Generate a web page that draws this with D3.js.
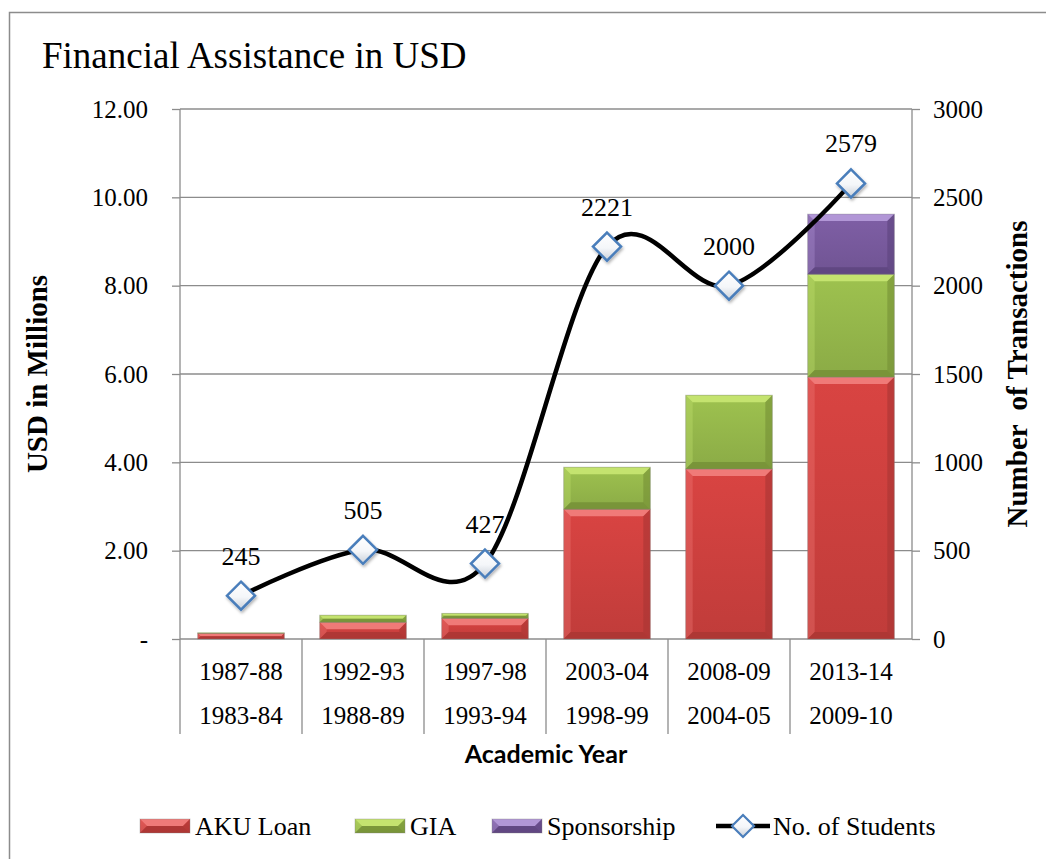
<!DOCTYPE html>
<html>
<head>
<meta charset="utf-8">
<script src="https://cdn.jsdelivr.net/npm/d3@7"></script>
<style>
  body { margin: 0; background: #fff; }
  svg { display: block; }
</style>
</head>
<body>
<div id="vis-container"></div>
<script>
// chart data
var yearsTop    = ["1987-88", "1992-93", "1997-98", "2003-04", "2008-09", "2013-14"];
var yearsBottom = ["1983-84", "1988-89", "1993-94", "1998-99", "2004-05", "2009-10"];
var akuLoan     = [0.13, 0.38, 0.47, 2.94, 3.85, 5.93];
var gia         = [0.01, 0.16, 0.11, 0.95, 1.67, 2.33];
var sponsorship = [0, 0, 0, 0, 0, 1.36];
var students    = [245, 505, 427, 2221, 2000, 2579];
var leftTicks   = [0, 2, 4, 6, 8, 10, 12];
var rightTicks  = [0, 500, 1000, 1500, 2000, 2500, 3000];
var seriesNames = ["AKU Loan", "GIA", "Sponsorship", "No. of Students"];

const width = 1046,
      height = 859,
      margin = {top: 109, bottom: 220, left: 180, right: 134};

const serif = "'Liberation Serif', 'Times New Roman', serif";

// colours for each stacked series: light / mid / dark
var palette = {
    "AKU Loan":    {light: "#f07a78", mid: "#d94442", dark: "#a93633"},
    "GIA":         {light: "#c4e36f", mid: "#9ec24f", dark: "#748f36"},
    "Sponsorship": {light: "#b196d6", mid: "#7f5fa6", dark: "#5c437d"}
};

var table = yearsTop.map(function(y, i) {
    return {year: y, "AKU Loan": akuLoan[i], "GIA": gia[i], "Sponsorship": sponsorship[i], students: students[i]};
});

var svg = d3.select("#vis-container").append("svg")
    .attr("width", width)
    .attr("height", height);

var defs = svg.append("defs");
Object.keys(palette).forEach(function(k, i) {
    var g = defs.append("linearGradient").attr("id", "grad" + i)
        .attr("x1", 0).attr("y1", 0).attr("x2", 0).attr("y2", 1);
    g.append("stop").attr("offset", "0%").attr("stop-color", palette[k].mid);
    g.append("stop").attr("offset", "100%").attr("stop-color", d3.color(palette[k].mid).darker(0.35));
    palette[k].grad = "url(#grad" + i + ")";
});
var mk = defs.append("linearGradient").attr("id", "markerGrad")
    .attr("x1", 0).attr("y1", 0).attr("x2", 0).attr("y2", 1);
mk.append("stop").attr("offset", "0%").attr("stop-color", "#ffffff");
mk.append("stop").attr("offset", "55%").attr("stop-color", "#f4f6f9");
mk.append("stop").attr("offset", "100%").attr("stop-color", "#c9d0d9");
var shadow = defs.append("filter").attr("id", "shadow")
    .attr("x", "-30%").attr("y", "-30%").attr("width", "160%").attr("height", "160%");
shadow.append("feDropShadow").attr("dx", 1).attr("dy", 2).attr("stdDeviation", 1.5)
    .attr("flood-color", "#000").attr("flood-opacity", 0.3);

// outer frame (only left and top edges are inside the picture)
svg.append("rect")
    .attr("x", 9.5).attr("y", 12.5)
    .attr("width", 1100).attr("height", 900)
    .attr("fill", "none").attr("stroke", "#8c8c8c").attr("stroke-width", 1.5);

// title
svg.append("text")
    .attr("x", 42).attr("y", 68)
    .attr("font-family", serif).attr("font-size", 37)
    .text("Financial Assistance in USD");

// ******* Scales *******
var x = d3.scaleBand().domain(yearsTop)
    .range([margin.left, width - margin.right])
    .paddingInner(0.29).paddingOuter(0.145);
var y = d3.scaleLinear().domain([0, 12]).range([height - margin.bottom, margin.top]);
var y2 = d3.scaleLinear().domain([0, 3000]).range([height - margin.bottom, margin.top]);

var x0 = margin.left, x1 = width - margin.right, yBase = height - margin.bottom;

// gridlines
svg.append("g").selectAll("line")
    .data(leftTicks)
    .enter().append("line")
    .attr("x1", x0).attr("x2", x1)
    .attr("y1", function(d) {return y(d);})
    .attr("y2", function(d) {return y(d);})
    .attr("stroke", "#8c8c8c").attr("stroke-width", 1.3);

// category separators, running below the axis
var step = x.step();
var bounds = [x0].concat(yearsTop.map(function(c) {return x(c) - step * x.paddingOuter() + step;}));
svg.append("g").selectAll("line")
    .data(bounds)
    .enter().append("line")
    .attr("x1", function(d) {return d;}).attr("x2", function(d) {return d;})
    .attr("y1", function(d, i) {return (i === 0 || i === bounds.length - 1) ? margin.top : yBase;})
    .attr("y2", function(d, i) {return i === bounds.length - 1 ? yBase : 734;})
    .attr("stroke", "#8c8c8c").attr("stroke-width", 1.3);

// ******* Axes *******
var axisL = svg.append("g")
    .attr("transform", `translate(${x0} 0)`)
    .call(d3.axisLeft(y).tickValues(leftTicks).tickSize(8).tickPadding(24)
        .tickFormat(function(d) {return d === 0 ? "-" : d3.format(".2f")(d);}));
var axisR = svg.append("g")
    .attr("transform", `translate(${x1} 0)`)
    .call(d3.axisRight(y2).tickValues(rightTicks).tickSize(8).tickPadding(13)
        .tickFormat(d3.format("d")));
[axisL, axisR].forEach(function(a) {
    a.select(".domain").remove();
    a.selectAll(".tick line").attr("stroke", "#8c8c8c").attr("stroke-width", 1.3);
    a.selectAll(".tick text").attr("font-family", serif).attr("font-size", 25).attr("fill", "#000");
});

// two rows of year labels
var xl = svg.append("g").attr("font-family", serif).attr("font-size", 25).attr("text-anchor", "middle");
yearsTop.forEach(function(c, i) {
    var cx = x(c) + x.bandwidth() / 2;
    xl.append("text").attr("x", cx).attr("y", 680).text(c);
    xl.append("text").attr("x", cx).attr("y", 724).text(yearsBottom[i]);
});

// axis titles
svg.append("text")
    .attr("x", (x0 + x1) / 2).attr("y", 763)
    .attr("text-anchor", "middle")
    .attr("font-family", "Lato, 'Open Sans', sans-serif").attr("font-weight", "bold").attr("font-size", 25)
    .text("Academic Year");
svg.append("text")
    .attr("transform", `translate(47 ${(margin.top + yBase) / 2}) rotate(-90)`)
    .attr("text-anchor", "middle")
    .attr("font-family", serif).attr("font-weight", "bold").attr("font-size", 29)
    .text("USD in Millions");
svg.append("text")
    .attr("transform", `translate(1027 ${(margin.top + yBase) / 2}) rotate(-90)`)
    .attr("text-anchor", "middle")
    .attr("font-family", serif).attr("font-weight", "bold").attr("font-size", 29)
    .attr("xml:space", "preserve")
    .text("Number  of Transactions");

// bevelled box, like the Excel bar style
function bevelBox(g, bx, by, bw, bh, col, fill) {
    if (bh <= 0) return;
    var b = Math.min(7, bh / 2, bw / 2);
    g.append("rect").attr("x", bx).attr("y", by).attr("width", bw).attr("height", bh)
        .attr("fill", fill);
    var poly = function(pts, c, op) {
        g.append("polygon").attr("points", pts.map(function(p) {return p.join(",");}).join(" "))
            .attr("fill", c).attr("fill-opacity", op);
    };
    poly([[bx, by], [bx + bw, by], [bx + bw - b, by + b], [bx + b, by + b]], col.light, 1);
    poly([[bx, by], [bx + b, by + b], [bx + b, by + bh - b], [bx, by + bh]], col.light, 0.35);
    poly([[bx + bw, by], [bx + bw, by + bh], [bx + bw - b, by + bh - b], [bx + bw - b, by + b]], col.dark, 0.6);
    poly([[bx, by + bh], [bx + b, by + bh - b], [bx + bw - b, by + bh - b], [bx + bw, by + bh]], col.dark, 0.8);
    g.append("rect").attr("x", bx).attr("y", by).attr("width", bw).attr("height", bh)
        .attr("fill", "none").attr("stroke", "#7f7f7f").attr("stroke-opacity", 0.35).attr("stroke-width", 1);
}

// ******* Stacked bars *******
var keys = ["AKU Loan", "GIA", "Sponsorship"];
var stacked = d3.stack().keys(keys)(table);
var barG = svg.append("g");
stacked.forEach(function(layer) {
    layer.forEach(function(d) {
        bevelBox(barG, x(d.data.year), y(d[1]), x.bandwidth(), y(d[0]) - y(d[1]),
            palette[layer.key], palette[layer.key].grad);
    });
});

// ******* Line of students *******
var line = d3.line()
    .x(function(d) {return x(d.year) + x.bandwidth() / 2;})
    .y(function(d) {return y2(d.students);})
    .curve(d3.curveCardinal.tension(0));
svg.append("path")
    .datum(table)
    .attr("d", line)
    .attr("fill", "none").attr("stroke", "#000").attr("stroke-width", 4.5);

var diamond = "M0,-14L14,0L0,14L-14,0Z";
svg.append("g").selectAll("path")
    .data(table)
    .enter().append("path")
    .attr("d", diamond)
    .attr("transform", function(d) {return `translate(${x(d.year) + x.bandwidth() / 2} ${y2(d.students)})`;})
    .attr("fill", "url(#markerGrad)").attr("stroke", "#4a7ebb").attr("stroke-width", 2.5)
    .attr("filter", "url(#shadow)");

svg.append("g").selectAll("text")
    .data(table)
    .enter().append("text")
    .attr("x", function(d) {return x(d.year) + x.bandwidth() / 2;})
    .attr("y", function(d) {return y2(d.students) - 31;})
    .attr("text-anchor", "middle")
    .attr("font-family", serif).attr("font-size", 26)
    .text(function(d) {return d.students;});

// ******* Legend *******
var legY = 826;
var legend = svg.append("g").attr("font-family", serif).attr("font-size", 26);
var legPos = [140, 355, 492, 716];
keys.forEach(function(k, i) {
    bevelBox(legend, legPos[i], legY - 7, 50, 14, palette[k], palette[k].grad);
    legend.append("text").attr("x", legPos[i] + 55).attr("y", legY + 9).text(seriesNames[i]);
});
legend.append("line")
    .attr("x1", legPos[3]).attr("x2", legPos[3] + 54)
    .attr("y1", legY).attr("y2", legY)
    .attr("stroke", "#000").attr("stroke-width", 4.5);
legend.append("path")
    .attr("d", "M0,-11L11,0L0,11L-11,0Z")
    .attr("transform", `translate(${legPos[3] + 27} ${legY})`)
    .attr("fill", "url(#markerGrad)").attr("stroke", "#4a7ebb").attr("stroke-width", 2.2);
legend.append("text").attr("x", legPos[3] + 57).attr("y", legY + 9).text(seriesNames[3]);
</script>
</body>
</html>
